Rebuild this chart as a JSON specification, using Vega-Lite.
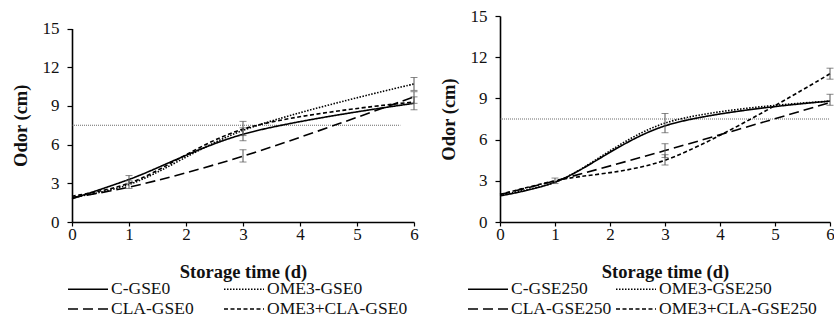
{
  "$schema": "https://vega.github.io/schema/vega-lite/v6.json",
  "padding": {"left": 11, "top": 7, "right": 0, "bottom": 0},
  "spacing": 20,
  "background": "white",
  "datasets": {
    "linesL": [
      {"series": "C-GSE0", "day": 0, "odor": 1.8},
      {"series": "C-GSE0", "day": 1, "odor": 3.3},
      {"series": "C-GSE0", "day": 3, "odor": 6.8},
      {"series": "C-GSE0", "day": 6, "odor": 9.2},
      {"series": "OME3-GSE0", "day": 0, "odor": 1.9},
      {"series": "OME3-GSE0", "day": 1, "odor": 2.9},
      {"series": "OME3-GSE0", "day": 3, "odor": 7.1},
      {"series": "OME3-GSE0", "day": 6, "odor": 10.7},
      {"series": "CLA-GSE0", "day": 0, "odor": 1.9},
      {"series": "CLA-GSE0", "day": 1, "odor": 2.7},
      {"series": "CLA-GSE0", "day": 3, "odor": 5.1},
      {"series": "CLA-GSE0", "day": 6, "odor": 9.7},
      {"series": "OME3+CLA-GSE0", "day": 0, "odor": 2.0},
      {"series": "OME3+CLA-GSE0", "day": 1, "odor": 3.0},
      {"series": "OME3+CLA-GSE0", "day": 3, "odor": 7.2},
      {"series": "OME3+CLA-GSE0", "day": 6, "odor": 9.3}
    ],
    "errL": [
      {"day": 1, "lo": 3.0, "hi": 3.6},
      {"day": 1, "lo": 2.6, "hi": 3.2},
      {"day": 3, "lo": 6.3, "hi": 7.3},
      {"day": 3, "lo": 6.7, "hi": 7.8},
      {"day": 3, "lo": 4.65, "hi": 5.6},
      {"day": 6, "lo": 10.2, "hi": 11.2},
      {"day": 6, "lo": 8.7, "hi": 9.7},
      {"day": 6, "lo": 9.2, "hi": 10.1}
    ],
    "refL": [{"x": 0, "x2": 5.76, "y": 7.5}],
    "linesR": [
      {"series": "C-GSE250", "day": 0, "odor": 1.9},
      {"series": "C-GSE250", "day": 1, "odor": 2.9},
      {"series": "C-GSE250", "day": 3, "odor": 7.0},
      {"series": "C-GSE250", "day": 6, "odor": 8.8},
      {"series": "OME3-GSE250", "day": 0, "odor": 2.0},
      {"series": "OME3-GSE250", "day": 1, "odor": 2.9},
      {"series": "OME3-GSE250", "day": 3, "odor": 7.2},
      {"series": "OME3-GSE250", "day": 6, "odor": 8.8},
      {"series": "CLA-GSE250", "day": 0, "odor": 2.0},
      {"series": "CLA-GSE250", "day": 1, "odor": 3.0},
      {"series": "CLA-GSE250", "day": 3, "odor": 5.2},
      {"series": "CLA-GSE250", "day": 6, "odor": 8.7},
      {"series": "OME3+CLA-GSE250", "day": 0, "odor": 2.0},
      {"series": "OME3+CLA-GSE250", "day": 1, "odor": 3.0},
      {"series": "OME3+CLA-GSE250", "day": 3, "odor": 4.5},
      {"series": "OME3+CLA-GSE250", "day": 6, "odor": 10.8}
    ],
    "errR": [
      {"day": 1, "lo": 2.8, "hi": 3.2},
      {"day": 3, "lo": 6.5, "hi": 7.9},
      {"day": 3, "lo": 4.7, "hi": 5.7},
      {"day": 3, "lo": 4.15, "hi": 4.9},
      {"day": 6, "lo": 10.4, "hi": 11.2},
      {"day": 6, "lo": 8.5, "hi": 9.3}
    ],
    "refR": [{"x": 0, "x2": 6, "y": 7.5}]
  },
  "hconcat": [
    {
      "width": 342,
      "height": 206,
      "layer": [
        {
          "data": {"name": "refL"},
          "mark": {"type": "rule", "color": "#444", "strokeDash": [1, 1], "strokeWidth": 0.8},
          "encoding": {
            "x": {"field": "x", "type": "quantitative", "title": "Storage time (d)", "scale": {"domain": [0, 6], "nice": false},
              "axis": {"values": [0, 1, 2, 3, 4, 5, 6], "format": "d"}},
            "x2": {"field": "x2"},
            "y": {"field": "y", "type": "quantitative", "title": "Odor (cm)", "scale": {"domain": [0, 15], "nice": false, "range": [206, 12.5]},
              "axis": {"values": [0, 3, 6, 9, 12, 15], "format": "d", "labelOverlap": false}}
          }
        },
        {
          "data": {"name": "linesL"},
          "mark": {"type": "line", "interpolate": "catmull-rom", "color": "black", "strokeWidth": 1.6},
          "encoding": {
            "x": {"field": "day", "type": "quantitative", "title": "Storage time (d)"},
            "y": {"field": "odor", "type": "quantitative", "title": "Odor (cm)"},
            "strokeDash": {
              "field": "series", "type": "nominal",
              "scale": {"domain": ["C-GSE0", "OME3-GSE0", "CLA-GSE0", "OME3+CLA-GSE0"],
                "range": [[1, 0], [1.5, 1.5], [10, 5], [4, 2.5]]},
              "legend": {"orient": "none", "legendX": -5, "legendY": 262, "direction": "horizontal", "columns": 2, "columnPadding": 26}
            }
          }
        },
        {
          "data": {"name": "errL"},
          "mark": {"type": "rule", "color": "#555", "strokeWidth": 1},
          "encoding": {
            "x": {"field": "day", "type": "quantitative", "title": "Storage time (d)"},
            "y": {"field": "lo", "type": "quantitative", "title": "Odor (cm)"},
            "y2": {"field": "hi"}
          }
        },
        {
          "data": {"name": "errL"},
          "mark": {"type": "tick", "orient": "horizontal", "color": "#555", "size": 7, "thickness": 1},
          "encoding": {
            "x": {"field": "day", "type": "quantitative", "title": "Storage time (d)"},
            "y": {"field": "lo", "type": "quantitative", "title": "Odor (cm)"}
          }
        },
        {
          "data": {"name": "errL"},
          "mark": {"type": "tick", "orient": "horizontal", "color": "#555", "size": 7, "thickness": 1},
          "encoding": {
            "x": {"field": "day", "type": "quantitative", "title": "Storage time (d)"},
            "y": {"field": "hi", "type": "quantitative", "title": "Odor (cm)"}
          }
        }
      ]
    },
    {
      "width": 330,
      "height": 206,
      "layer": [
        {
          "data": {"name": "refR"},
          "mark": {"type": "rule", "color": "#444", "strokeDash": [1, 1], "strokeWidth": 0.8},
          "encoding": {
            "x": {"field": "x", "type": "quantitative", "title": "Storage time (d)", "scale": {"domain": [0, 6], "nice": false},
              "axis": {"values": [0, 1, 2, 3, 4, 5, 6], "format": "d"}},
            "x2": {"field": "x2"},
            "y": {"field": "y", "type": "quantitative", "title": "Odor (cm)", "scale": {"domain": [0, 15], "nice": false},
              "axis": {"values": [0, 3, 6, 9, 12, 15], "format": "d", "labelOverlap": false}}
          }
        },
        {
          "data": {"name": "linesR"},
          "mark": {"type": "line", "interpolate": "catmull-rom", "color": "black", "strokeWidth": 1.6},
          "encoding": {
            "x": {"field": "day", "type": "quantitative", "title": "Storage time (d)"},
            "y": {"field": "odor", "type": "quantitative", "title": "Odor (cm)"},
            "strokeDash": {
              "field": "series", "type": "nominal",
              "scale": {"domain": ["C-GSE250", "OME3-GSE250", "CLA-GSE250", "OME3+CLA-GSE250"],
                "range": [[1, 0], [1.5, 1.5], [10, 5], [4, 2.5]]},
              "legend": {"orient": "none", "legendX": -33, "legendY": 262, "direction": "horizontal", "columns": 2, "columnPadding": 0}
            }
          }
        },
        {
          "data": {"name": "errR"},
          "mark": {"type": "rule", "color": "#555", "strokeWidth": 1},
          "encoding": {
            "x": {"field": "day", "type": "quantitative", "title": "Storage time (d)"},
            "y": {"field": "lo", "type": "quantitative", "title": "Odor (cm)"},
            "y2": {"field": "hi"}
          }
        },
        {
          "data": {"name": "errR"},
          "mark": {"type": "tick", "orient": "horizontal", "color": "#555", "size": 7, "thickness": 1},
          "encoding": {
            "x": {"field": "day", "type": "quantitative", "title": "Storage time (d)"},
            "y": {"field": "lo", "type": "quantitative", "title": "Odor (cm)"}
          }
        },
        {
          "data": {"name": "errR"},
          "mark": {"type": "tick", "orient": "horizontal", "color": "#555", "size": 7, "thickness": 1},
          "encoding": {
            "x": {"field": "day", "type": "quantitative", "title": "Storage time (d)"},
            "y": {"field": "hi", "type": "quantitative", "title": "Odor (cm)"}
          }
        }
      ]
    }
  ],
  "resolve": {"scale": {"strokeDash": "independent"}, "legend": {"strokeDash": "independent"}},
  "config": {
    "view": {"stroke": null},
    "font": "Liberation Serif",
    "axis": {
      "grid": false,
      "labelOverlap": false,
      "domainColor": "black",
      "domainWidth": 1.6,
      "tickColor": "black",
      "tickWidth": 1.2,
      "tickSize": 5,
      "labelFont": "Liberation Serif",
      "labelFontSize": 17,
      "labelColor": "#111",
      "titleFont": "Liberation Serif",
      "titleFontWeight": "bold",
      "titleFontSize": 18.5,
      "titleColor": "#111"
    },
    "axisX": {"titlePadding": 20, "labelFlush": false, "labelPadding": 0, "tickSize": 4},
    "axisY": {"titlePadding": 12, "labelPadding": 8},
    "legend": {
      "title": null,
      "symbolType": "M-1,0H3",
      "symbolSize": 400,
      "symbolStrokeWidth": 1.6,
      "symbolStrokeColor": "black",
      "labelFont": "Liberation Serif",
      "labelFontSize": 17.5,
      "labelColor": "#111",
      "labelOffset": 22,
      "rowPadding": 0
    }
  }
}
